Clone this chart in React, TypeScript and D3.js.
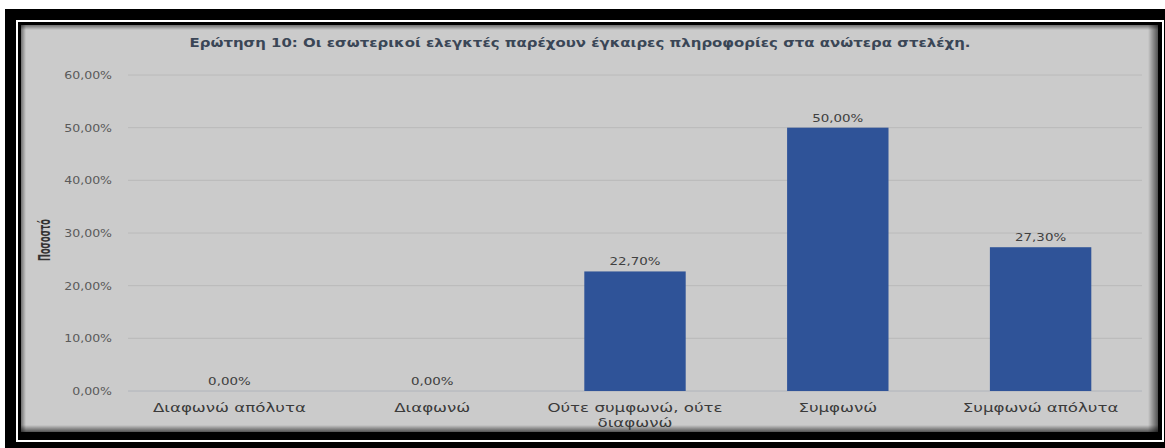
import React from "react";
import * as d3 from "d3";

const categories: string[] = [
  "Διαφωνώ απόλυτα",
  "Διαφωνώ",
  "Ούτε συμφωνώ, ούτε διαφωνώ",
  "Συμφωνώ",
  "Συμφωνώ απόλυτα",
];
const categoryLines: string[][] = [
  ["Διαφωνώ απόλυτα"],
  ["Διαφωνώ"],
  ["Ούτε συμφωνώ, ούτε", "διαφωνώ"],
  ["Συμφωνώ"],
  ["Συμφωνώ απόλυτα"],
];
const values: number[] = [0, 0, 22.7, 50, 27.3];
const yTicks: number[] = [0, 10, 20, 30, 40, 50, 60];
const title =
  "Ερώτηση 10: Οι εσωτερικοί ελεγκτές παρέχουν έγκαιρες πληροφορίες στα ανώτερα στελέχη.";
const yTitle = "Ποσοστό";

const W = 1165;
const H = 448;
const plot = { left: 128, right: 1142, top: 75, bottom: 391 };
const font = "'DejaVu Sans', Verdana, sans-serif";
const fmt = (v: number) => v.toFixed(2).replace(".", ",") + "%";

export default function App() {
  const x = d3
    .scaleBand<string>()
    .domain(categories)
    .range([plot.left, plot.right])
    .paddingInner(0.5)
    .paddingOuter(0.25);
  const y = d3.scaleLinear().domain([0, 60]).range([plot.bottom, plot.top]);

  const gx = 21, gy = 25, gw = 1137, gh = 407;

  return (
    <svg
      width={W}
      height={H}
      style={{ position: "absolute", left: 0, top: 0, background: "#fff" }}
    >
      <defs>
        <linearGradient id="shT" x1="0" y1="0" x2="0" y2="1">
          <stop offset="0" stopColor="#000" stopOpacity={0.45} />
          <stop offset="1" stopColor="#000" stopOpacity={0} />
        </linearGradient>
        <linearGradient id="shB" x1="0" y1="1" x2="0" y2="0">
          <stop offset="0" stopColor="#000" stopOpacity={0.6} />
          <stop offset="1" stopColor="#000" stopOpacity={0} />
        </linearGradient>
        <linearGradient id="shL" x1="0" y1="0" x2="1" y2="0">
          <stop offset="0" stopColor="#000" stopOpacity={0.45} />
          <stop offset="1" stopColor="#000" stopOpacity={0} />
        </linearGradient>
        <linearGradient id="shR" x1="1" y1="0" x2="0" y2="0">
          <stop offset="0" stopColor="#000" stopOpacity={0.6} />
          <stop offset="1" stopColor="#000" stopOpacity={0} />
        </linearGradient>
      </defs>
      {/* frame */}
      <rect x={5} y={9} width={1170} height={445} fill="#000" />
      <rect
        x={17}
        y={21}
        width={1146}
        height={420}
        fill="none"
        stroke="#fff"
        strokeWidth={2}
      />
      <rect x={gx} y={gy} width={gw} height={gh} fill="#cbcbcb" />
      <rect x={gx} y={gy} width={gw} height={5} fill="url(#shT)" />
      <rect x={gx} y={gy + gh - 7} width={gw} height={7} fill="url(#shB)" />
      <rect x={gx} y={gy} width={5} height={gh} fill="url(#shL)" />
      <rect x={gx + gw - 10} y={gy} width={10} height={gh} fill="url(#shR)" />

      {/* title */}
      <text
        transform={`translate(580,47) scale(1.3,1)`}
        textAnchor="middle"
        fontFamily={font}
        fontWeight="bold"
        fontSize={11.5}
        fill="#3a4656"
      >
        {title}
      </text>

      {/* gridlines and y ticks */}
      {yTicks.map((t) => (
        <g key={t}>
          <line
            x1={plot.left}
            x2={plot.right}
            y1={y(t)}
            y2={y(t)}
            stroke={t === 0 ? "#b0b4bb" : "#bababa"}
            strokeWidth={1}
          />
          <text
            transform={`translate(112,${y(t) + 4}) scale(1.14,1)`}
            textAnchor="end"
            fontFamily={font}
            fontSize={11}
            fill="#5a5a5a"
          >
            {fmt(t)}
          </text>
        </g>
      ))}

      {/* y title */}
      <text
        transform={`translate(50,${240}) rotate(-90) scale(0.55,1)`}
        textAnchor="middle"
        fontFamily={font}
        fontWeight="bold"
        fontSize={15}
        fill="#333"
      >
        {yTitle}
      </text>

      {/* bars */}
      {categories.map((c, i) => (
        <g key={c}>
          {values[i] > 0 && (
            <rect
              x={x(c)!}
              y={y(values[i])}
              width={x.bandwidth()}
              height={y(0) - y(values[i])}
              fill="#2f5398"
            />
          )}
          <text
            transform={`translate(${x(c)! + x.bandwidth() / 2},${y(values[i]) - 6}) scale(1.22,1)`}
            textAnchor="middle"
            fontFamily={font}
            fontSize={11}
            fill="#404040"
          >
            {fmt(values[i])}
          </text>
          {categoryLines[i].map((ln, j) => (
            <text
              key={j}
              transform={`translate(${x(c)! + x.bandwidth() / 2},${412 + j * 15}) scale(1.28,1)`}
              textAnchor="middle"
              fontFamily={font}
              fontSize={13}
              fill="#3a3a3a"
            >
              {ln}
            </text>
          ))}
        </g>
      ))}
    </svg>
  );
}
